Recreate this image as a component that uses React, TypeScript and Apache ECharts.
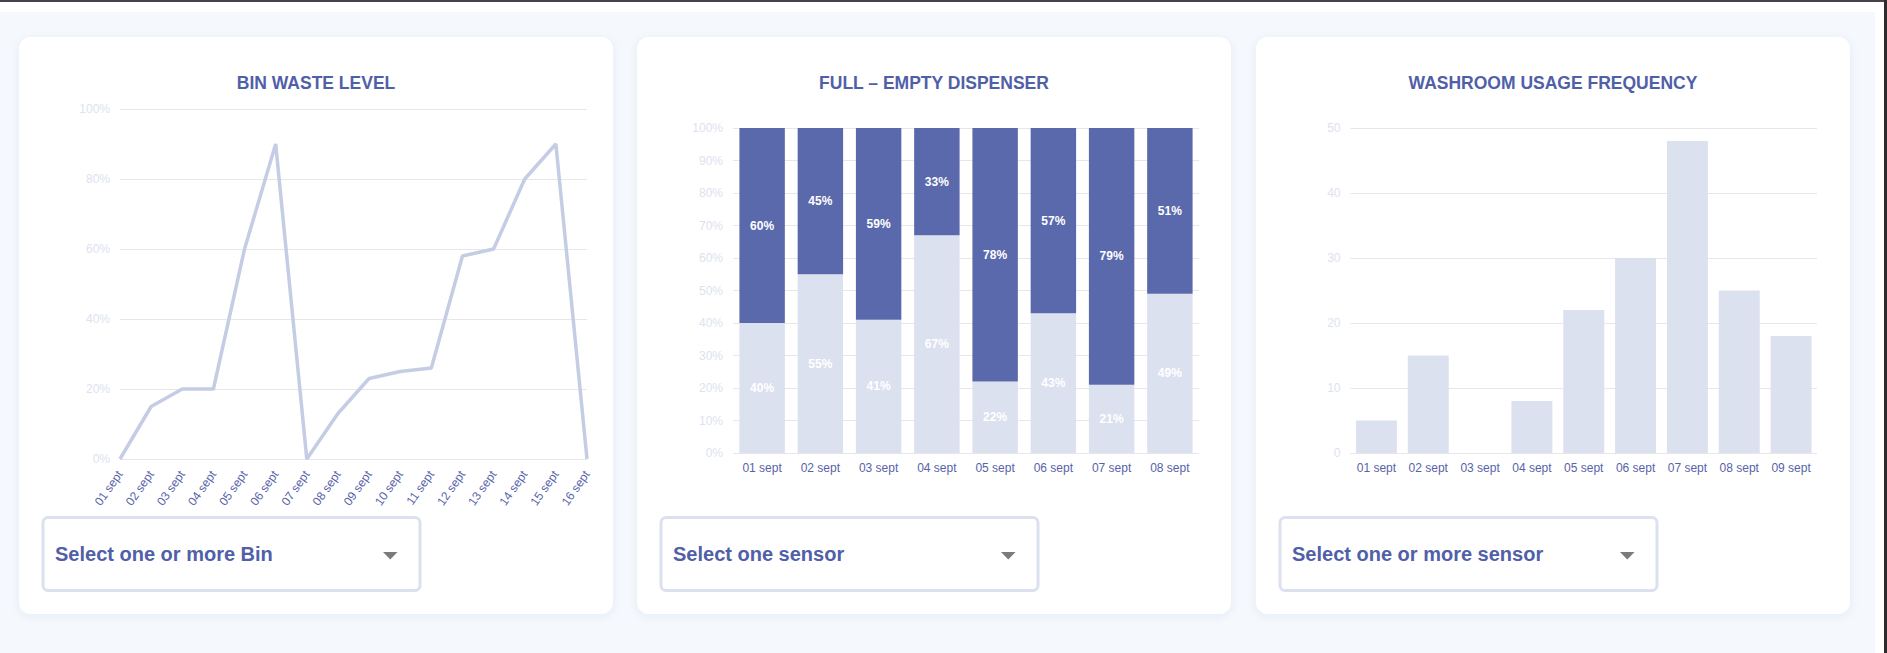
import React, { useEffect, useRef } from "react";
import * as echarts from "echarts";

// ---- data ----
const binDays = ["01 sept", "02 sept", "03 sept", "04 sept", "05 sept", "06 sept", "07 sept", "08 sept", "09 sept", "10 sept", "11 sept", "12 sept", "13 sept", "14 sept", "15 sept", "16 sept"];
const binLevel = [0, 15, 20, 20, 60, 90, 0, 13, 23, 25, 26, 58, 60, 80, 90, 0];

const dispenserDays = ["01 sept", "02 sept", "03 sept", "04 sept", "05 sept", "06 sept", "07 sept", "08 sept"];
const emptyShare = [40, 55, 41, 67, 22, 43, 21, 49];
const fullShare = [60, 45, 59, 33, 78, 57, 79, 51];

const usageDays = ["01 sept", "02 sept", "03 sept", "04 sept", "05 sept", "06 sept", "07 sept", "08 sept", "09 sept"];
const usageCount = [5, 15, 0, 8, 22, 30, 48, 25, 18];

const cardTitles = ["BIN WASTE LEVEL", "FULL \u2013 EMPTY DISPENSER", "WASHROOM USAGE FREQUENCY"];
const dropdownTexts = ["Select one or more Bin", "Select one sensor", "Select one or more sensor"];

// ---- styling ----
const FONT = "'Liberation Sans', Arial, Helvetica, sans-serif";
const TITLE_COLOR = "#5060a8";
const XLABEL_COLOR = "#5763a9";
const YLABEL_COLOR = "#dde2f0";
const GRID_COLOR = "#e7e7e7";
const DARK_BAR = "#5a69ab";
const LIGHT_BAR = "#dce1ef";
const LINE_COLOR = "#c5cde5";

const CARD_LEFTS = [19, 637, 1256];
const CARD_W = 594;
const CARD_TOP = 37;
const CARD_H = 577;

function buildGraphics() {
  const els: any[] = [];
  els.push({ type: "rect", z: -20, shape: { x: 0, y: 12, width: 1875, height: 641 }, style: { fill: "#f5f9fd" }, silent: true });
  els.push({ type: "rect", z: -20, shape: { x: 0, y: 0, width: 1887, height: 2 }, style: { fill: "#4a4049" }, silent: true });
  els.push({ type: "rect", z: -20, shape: { x: 1884, y: 0, width: 3, height: 653 }, style: { fill: "#2e2a2e" }, silent: true });
  CARD_LEFTS.forEach((left, i) => {
    els.push({
      type: "rect",
      z: -10,
      shape: { x: left, y: CARD_TOP, width: CARD_W, height: CARD_H, r: 12 },
      style: { fill: "#ffffff", shadowBlur: 10, shadowColor: "rgba(40,60,110,0.07)", shadowOffsetY: 2 },
      silent: true,
    });
    els.push({
      type: "text",
      z: 10,
      x: left + CARD_W / 2,
      y: 83,
      style: {
        text: cardTitles[i],
        fill: TITLE_COLOR,
        font: `bold 17.5px ${FONT}`,
        align: "center",
        verticalAlign: "middle",
        textAlign: "center",
        textVerticalAlign: "middle",
      },
    });
    els.push({
      type: "rect",
      z: 10,
      shape: { x: left + 24, y: 517.5, width: 377, height: 73, r: 5 },
      style: { fill: "#ffffff", stroke: "#dbe1ef", lineWidth: 3 },
    });
    els.push({
      type: "text",
      z: 11,
      x: left + 36,
      y: 554,
      style: {
        text: dropdownTexts[i],
        fill: TITLE_COLOR,
        font: `bold 20px ${FONT}`,
        align: "left",
        verticalAlign: "middle",
        textAlign: "left",
        textVerticalAlign: "middle",
      },
    });
    els.push({
      type: "polygon",
      z: 11,
      shape: { points: [[left + 364, 552], [left + 378.5, 552], [left + 371.25, 559.5]] },
      style: { fill: "#7b7b7b" },
    });
  });
  return els;
}

function valueAxis(gridIndex: number, max: number, interval: number, pct: boolean) {
  return {
    type: "value",
    gridIndex,
    min: 0,
    max,
    interval,
    axisLine: { show: false },
    axisTick: { show: false },
    splitLine: { show: true, lineStyle: { color: GRID_COLOR, width: 1 } },
    axisLabel: {
      color: YLABEL_COLOR,
      fontSize: 12,
      fontFamily: FONT,
      margin: 10,
      formatter: pct ? "{value}%" : "{value}",
    },
  };
}

function categoryAxis(gridIndex: number, data: string[], extra: any = {}) {
  return {
    type: "category",
    gridIndex,
    data,
    axisLine: { show: false },
    axisTick: { show: false },
    splitLine: { show: false },
    axisLabel: { color: XLABEL_COLOR, fontSize: 12, fontFamily: FONT, margin: 9, interval: 0, ...(extra.axisLabel || {}) },
    ...(extra.axis || {}),
  };
}

export default function App() {
  const ref = useRef<HTMLDivElement>(null);
  useEffect(() => {
    if (!ref.current) return;
    const chart = echarts.init(ref.current, null, { renderer: "svg", width: 1887, height: 653 });
    const barLabel = {
      show: true,
      position: "inside",
      color: "#ffffff",
      fontWeight: "bold",
      fontSize: 12,
      fontFamily: FONT,
      formatter: "{c}%",
    };
    const option: any = {
      animation: false,
      backgroundColor: "#ffffff",
      textStyle: { fontFamily: FONT },
      graphic: { elements: buildGraphics() },
      grid: [
        { left: 120, top: 109, width: 467, height: 350, containLabel: false, outerBoundsMode: "none" },
        { left: 733, top: 128, width: 466, height: 325, containLabel: false, outerBoundsMode: "none" },
        { left: 1350.5, top: 128, width: 466.5, height: 325, containLabel: false, outerBoundsMode: "none" },
      ],
      xAxis: [
        categoryAxis(0, binDays, { axis: { boundaryGap: false }, axisLabel: { rotate: 55, margin: 13, padding: [8, 0, 0, 0] } }),
        categoryAxis(1, dispenserDays),
        categoryAxis(2, usageDays),
      ],
      yAxis: [valueAxis(0, 100, 20, true), valueAxis(1, 100, 10, true), valueAxis(2, 50, 10, false)],
      series: [
        {
          type: "line",
          xAxisIndex: 0,
          yAxisIndex: 0,
          data: binLevel,
          symbol: "none",
          smooth: false,
          lineStyle: { color: LINE_COLOR, width: 3.5 },
          z: 3,
        },
        {
          type: "bar",
          xAxisIndex: 1,
          yAxisIndex: 1,
          stack: "disp",
          data: emptyShare,
          barCategoryGap: "22%",
          itemStyle: { color: LIGHT_BAR },
          label: barLabel,
        },
        {
          type: "bar",
          xAxisIndex: 1,
          yAxisIndex: 1,
          stack: "disp",
          data: fullShare,
          barCategoryGap: "22%",
          itemStyle: { color: DARK_BAR },
          label: barLabel,
        },
        {
          type: "bar",
          xAxisIndex: 2,
          yAxisIndex: 2,
          data: usageCount,
          barCategoryGap: "21%",
          itemStyle: { color: LIGHT_BAR },
        },
      ],
    };
    chart.setOption(option);
    return () => chart.dispose();
  }, []);
  return <div ref={ref} style={{ position: "fixed", left: 0, top: 0, width: 1887, height: 653 }} />;
}
